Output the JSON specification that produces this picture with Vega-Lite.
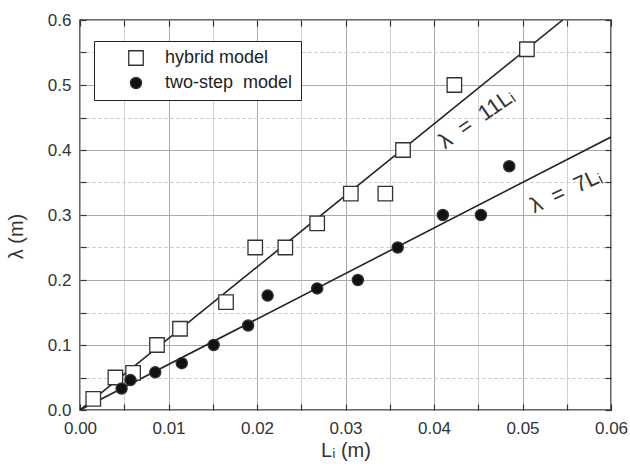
{
  "$schema": "https://vega.github.io/schema/vega-lite/v6.json",
  "width": 531,
  "height": 390,
  "autosize": {"type": "none"},
  "padding": {"left": 80, "top": 20, "right": 19, "bottom": 57},
  "background": "white",
  "config": {
    "font": "Liberation Sans",
    "view": {"stroke": "#333", "strokeWidth": 1.5},
    "axis": {"labelFont": "Liberation Sans", "titleFont": "Liberation Sans", "labelFlush": false, "tickColor": "#333", "tickWidth": 1.2}
  },
  "datasets": {
    "points": [
      {"model": "hybrid model", "L": 0.0015, "lambda": 0.017},
      {"model": "hybrid model", "L": 0.0040, "lambda": 0.050},
      {"model": "hybrid model", "L": 0.0060, "lambda": 0.057},
      {"model": "hybrid model", "L": 0.0087, "lambda": 0.100},
      {"model": "hybrid model", "L": 0.0113, "lambda": 0.125},
      {"model": "hybrid model", "L": 0.0165, "lambda": 0.166},
      {"model": "hybrid model", "L": 0.0198, "lambda": 0.250},
      {"model": "hybrid model", "L": 0.0232, "lambda": 0.250},
      {"model": "hybrid model", "L": 0.0268, "lambda": 0.287},
      {"model": "hybrid model", "L": 0.0306, "lambda": 0.333},
      {"model": "hybrid model", "L": 0.0345, "lambda": 0.333},
      {"model": "hybrid model", "L": 0.0365, "lambda": 0.400},
      {"model": "hybrid model", "L": 0.0423, "lambda": 0.500},
      {"model": "hybrid model", "L": 0.0505, "lambda": 0.555},
      {"model": "two-step\u00a0 model", "L": 0.0047, "lambda": 0.033},
      {"model": "two-step\u00a0 model", "L": 0.0057, "lambda": 0.046},
      {"model": "two-step\u00a0 model", "L": 0.0085, "lambda": 0.058},
      {"model": "two-step\u00a0 model", "L": 0.0115, "lambda": 0.072},
      {"model": "two-step\u00a0 model", "L": 0.0151, "lambda": 0.100},
      {"model": "two-step\u00a0 model", "L": 0.0190, "lambda": 0.130},
      {"model": "two-step\u00a0 model", "L": 0.0212, "lambda": 0.176},
      {"model": "two-step\u00a0 model", "L": 0.0268, "lambda": 0.187},
      {"model": "two-step\u00a0 model", "L": 0.0314, "lambda": 0.200},
      {"model": "two-step\u00a0 model", "L": 0.0359, "lambda": 0.250},
      {"model": "two-step\u00a0 model", "L": 0.0410, "lambda": 0.300},
      {"model": "two-step\u00a0 model", "L": 0.0453, "lambda": 0.300},
      {"model": "two-step\u00a0 model", "L": 0.0485, "lambda": 0.375}
    ],
    "fits": [
      {"fit": "11", "L": 0, "lambda": 0},
      {"fit": "11", "L": 0.054545, "lambda": 0.6},
      {"fit": "7", "L": 0, "lambda": 0},
      {"fit": "7", "L": 0.06, "lambda": 0.42}
    ],
    "label11": [{"L": 0.0448, "lambda": 0.448, "label": "λ\u00a0 =\u00a0 11Lᵢ"}],
    "label7": [{"L": 0.0549, "lambda": 0.337, "label": "λ\u00a0 =\u00a0 7Lᵢ"}]
  },
  "layer": [
    {
      "data": {"name": "fits"},
      "mark": {"type": "line", "color": "#222", "strokeWidth": 1.6, "clip": true},
      "encoding": {
        "x": {"field": "L", "type": "quantitative", "scale": {"domain": [0, 0.06], "nice": false},
          "axis": {"orient": "bottom", "values": [0, 0.01, 0.02, 0.03, 0.04, 0.05, 0.06], "format": ".2f",
            "grid": true, "gridColor": "#aaa", "gridWidth": 1, "ticks": true, "tickSize": -6, "domain": false,
            "labelFontSize": 17, "labelColor": "#333", "labelPadding": 16,
            "title": "Lᵢ (m)", "titleFontSize": 20, "titleFontWeight": "normal", "titleColor": "#333", "titlePadding": 4}},
        "y": {"field": "lambda", "type": "quantitative", "scale": {"domain": [0, 0.6], "nice": false},
          "axis": {"orient": "left", "values": [0, 0.1, 0.2, 0.3, 0.4, 0.5, 0.6], "format": ".1f",
            "grid": true, "gridColor": "#aaa", "gridWidth": 1, "ticks": true, "tickSize": -6, "domain": false,
            "labelFontSize": 17, "labelColor": "#333", "labelPadding": 15,
            "title": "λ (m)", "titleFontSize": 20, "titleFontWeight": "normal", "titleColor": "#333",
            "titleX": -64, "titleY": 216, "titleAlign": "center", "titleBaseline": "middle"}},
        "detail": {"field": "fit", "type": "nominal"}
      }
    },
    {
      "data": {"name": "points"},
      "mark": {"type": "point", "filled": false, "stroke": "#333", "strokeWidth": 1.3, "opacity": 1},
      "encoding": {
        "x": {"field": "L", "type": "quantitative", "scale": {"domain": [0, 0.06], "nice": false},
          "axis": {"orient": "top", "values": [0, 0.01, 0.02, 0.03, 0.04, 0.05, 0.06],
            "labels": false, "ticks": true, "tickSize": -6, "domain": false, "grid": true, "gridColor": "#aaa", "gridWidth": 1, "title": null}},
        "y": {"field": "lambda", "type": "quantitative", "scale": {"domain": [0, 0.6], "nice": false},
          "axis": {"orient": "right", "values": [0, 0.1, 0.2, 0.3, 0.4, 0.5, 0.6],
            "labels": false, "ticks": true, "tickSize": -6, "domain": false, "grid": true, "gridColor": "#aaa", "gridWidth": 1, "title": null}},
        "shape": {"field": "model", "type": "nominal", "scale": {"domain": ["hybrid model", "two-step\u00a0 model"], "range": ["square", "circle"]},
          "legend": {"title": null, "orient": "none", "legendX": 14, "legendY": 21, "strokeColor": "#222", "fillColor": "white",
            "padding": 8, "symbolOffset": 25, "labelOffset": 20, "rowPadding": 6, "labelFontSize": 18, "labelColor": "#222",
            "labelFont": "Liberation Sans", "symbolStrokeColor": "#333", "symbolStrokeWidth": 1.3}},
        "fill": {"field": "model", "type": "nominal", "scale": {"domain": ["hybrid model", "two-step\u00a0 model"], "range": ["white", "#111"]}},
        "size": {"field": "model", "type": "nominal", "scale": {"domain": ["hybrid model", "two-step\u00a0 model"], "range": [210, 125]}}
      }
    },
    {
      "data": {"name": "label11"},
      "mark": {"type": "text", "angle": -35, "fontSize": 22, "color": "#333", "align": "center", "baseline": "middle"},
      "encoding": {
        "x": {"field": "L", "type": "quantitative", "scale": {"domain": [0, 0.06], "nice": false},
          "axis": {"orient": "top", "values": [0.005, 0.015, 0.025, 0.035, 0.045, 0.055],
            "labels": false, "ticks": true, "tickSize": -6, "domain": false, "grid": true, "gridColor": "#ccc", "gridDash": [3, 3], "title": null}},
        "y": {"field": "lambda", "type": "quantitative", "scale": {"domain": [0, 0.6], "nice": false},
          "axis": {"orient": "right", "values": [0.05, 0.15, 0.25, 0.35, 0.45, 0.55],
            "labels": false, "ticks": true, "tickSize": -6, "domain": false, "grid": true, "gridColor": "#ccc", "gridDash": [3, 3], "title": null}},
        "text": {"field": "label", "type": "nominal"}
      }
    },
    {
      "data": {"name": "label7"},
      "mark": {"type": "text", "angle": -25, "fontSize": 22, "color": "#333", "align": "center", "baseline": "middle"},
      "encoding": {
        "x": {"field": "L", "type": "quantitative", "scale": {"domain": [0, 0.06], "nice": false},
          "axis": {"orient": "bottom", "values": [0.005, 0.015, 0.025, 0.035, 0.045, 0.055],
            "labels": false, "ticks": true, "tickSize": -6, "domain": false, "grid": true, "gridColor": "#ccc", "gridDash": [3, 3], "title": null}},
        "y": {"field": "lambda", "type": "quantitative", "scale": {"domain": [0, 0.6], "nice": false},
          "axis": {"orient": "left", "values": [0.05, 0.15, 0.25, 0.35, 0.45, 0.55],
            "labels": false, "ticks": true, "tickSize": -6, "domain": false, "grid": true, "gridColor": "#ccc", "gridDash": [3, 3], "title": null}},
        "text": {"field": "label", "type": "nominal"}
      }
    }
  ],
  "resolve": {"axis": {"x": "independent", "y": "independent"}}
}
